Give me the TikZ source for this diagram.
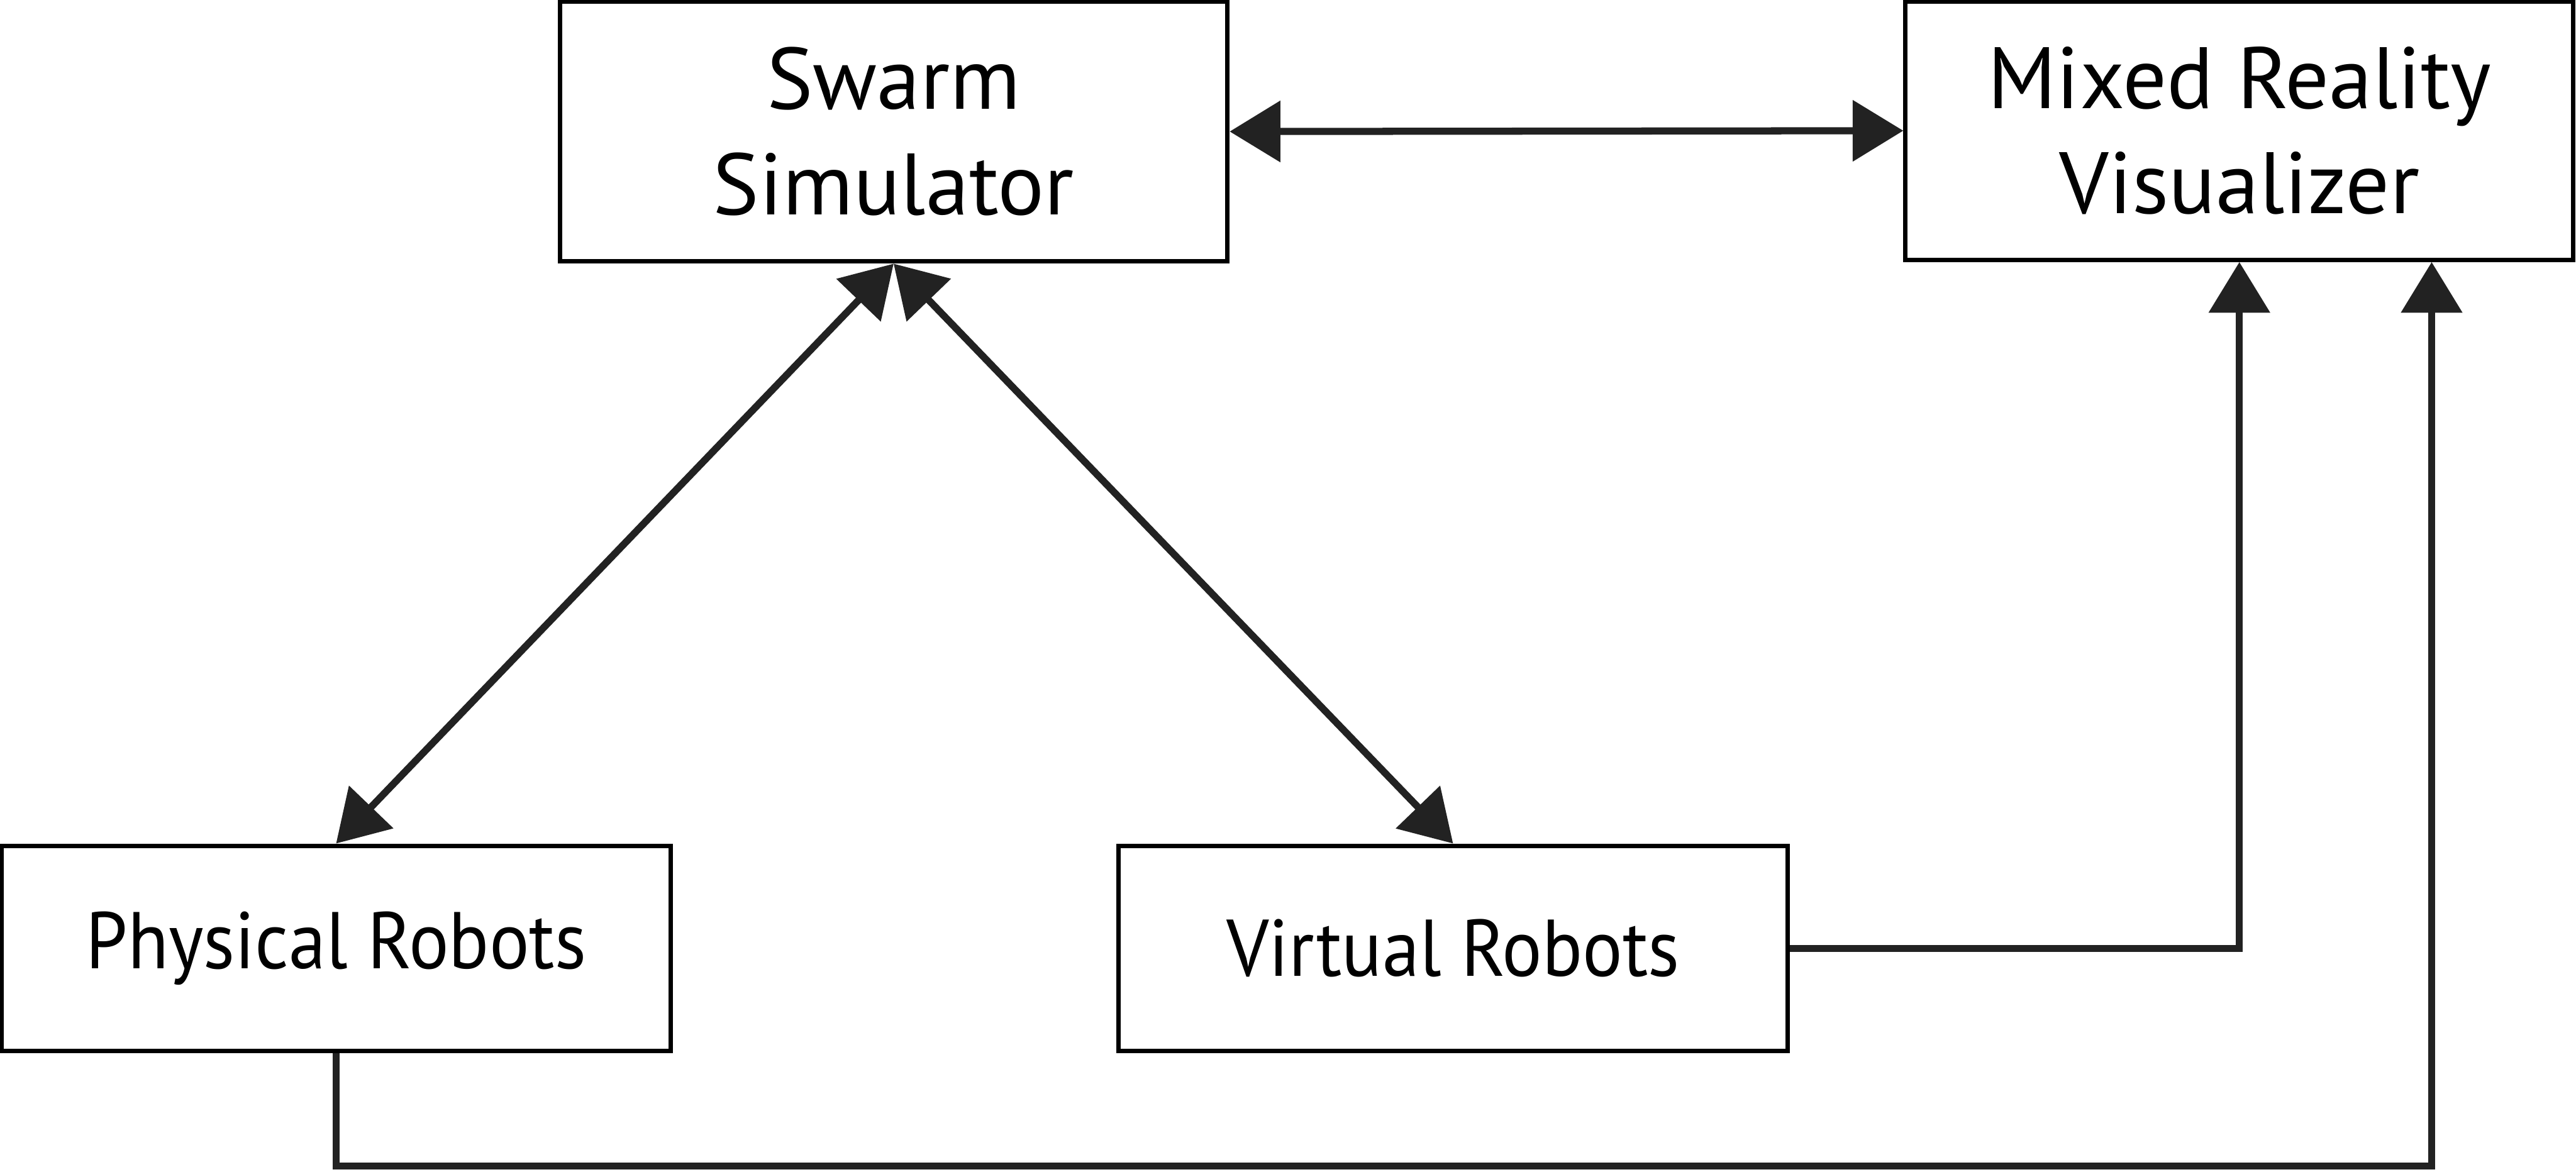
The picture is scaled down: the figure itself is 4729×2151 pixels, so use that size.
\documentclass[tikz,border=0pt]{standalone}
\usepackage{fontspec}
\setmainfont{PT Sans}
\newfontfamily\botf{PT Sans}[FakeStretch=0.93]
\usetikzlibrary{arrows.meta}
\definecolor{ln}{HTML}{222222}
\begin{document}
\begin{tikzpicture}[x=0.01cm,y=-0.01cm,
  box/.style={draw=black,line width=2.3pt,minimum width=12.25cm,align=center,inner sep=0pt},
  topbox/.style={box,font=\fontsize{45.5}{55}\selectfont},
  botbox/.style={box,font=\botf\fontsize{42}{55}\selectfont},
  conn/.style={draw=ln,line width=3.7pt},
  tipa/.style={arrows={-Triangle[length=0.93cm,width=1.1cm,fill=ln]}},
  tipb/.style={arrows={Triangle[length=0.93cm,width=1.1cm,fill=ln]-Triangle[length=0.93cm,width=1.1cm,fill=ln]}}]
\useasboundingbox (0,0) rectangle (4729,2151);
\node[topbox,minimum height=4.77cm] (sw) at (1640.5,241.5) {Swarm\\Simulator};
\node[topbox,minimum height=4.74cm] (mr) at (4111,240) {Mixed Reality\\Visualizer};
\node[botbox,minimum height=3.77cm,minimum width=12.28cm] (ph) at (617,1741.5) {Physical Robots};
\node[botbox,minimum height=3.77cm,minimum width=12.27cm] (vr) at (2667.5,1741.5) {Virtual Robots};
\coordinate (c) at (4464,2141);
\draw[conn,tipb] (sw.east) -- (mr.west);
\draw[conn,tipb] (sw.south) -- (ph.north);
\draw[conn,tipb] (sw.south) -- (vr.north);
\draw[conn,tipa] (vr.east) -| (mr.south);
\draw[conn,tipa] (ph.south) |- (c) -- (c |- mr.south);
\end{tikzpicture}
\end{document}
